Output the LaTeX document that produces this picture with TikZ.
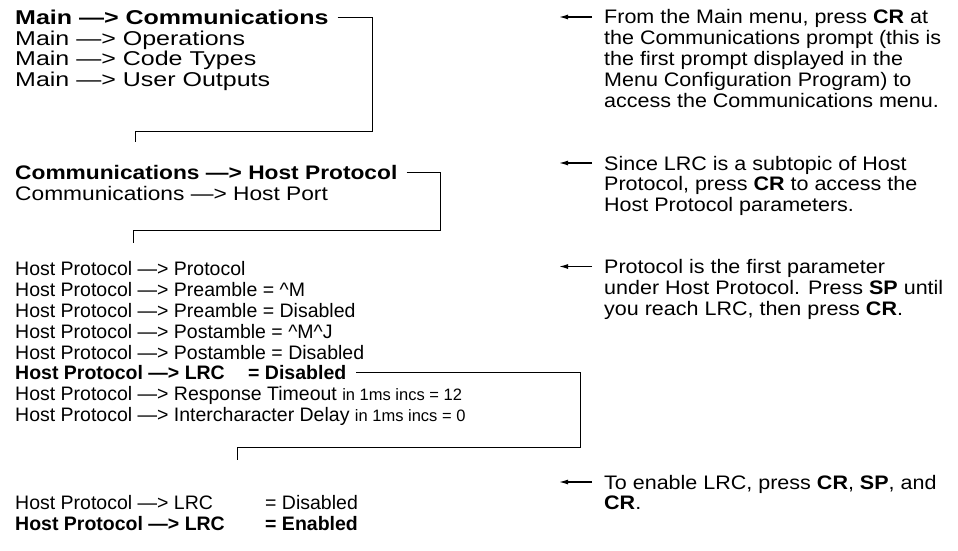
\documentclass[tikz,border=0pt]{standalone}
\usepackage{fontspec}
\setmainfont{Liberation Sans}[FakeStretch=1.1]
\newfontfamily\mainfam{Liberation Sans}[FakeStretch=1.25]
\newfontfamily\commfam{Liberation Sans}[FakeStretch=1.16]
\newfontfamily\hostfam{Liberation Sans}
\usetikzlibrary{calc}
\usetikzlibrary{arrows.meta}

\newcommand{\menuto}{—>}
\newcommand{\mainfs}{\mainfam\fontsize{20}{24}\selectfont}
\newcommand{\bodyfs}{\commfam\fontsize{19.6}{23}\selectfont}
\newcommand{\hostfs}{\hostfam\fontsize{19.5}{23}\selectfont}
\newcommand{\notefs}{\fontsize{19.55}{23}\selectfont}
\newcommand{\smallfs}{\fontsize{16.5}{19}\selectfont}

\begin{document}
\begin{tikzpicture}[x=1pt,y=-1pt,
    menu/.style={anchor=base west,inner sep=0pt,font=\bodyfs},
    host/.style={anchor=base west,inner sep=0pt,font=\hostfs},
    note/.style={anchor=base west,inner sep=0pt,font=\notefs},
    link/.style={line width=.9pt},
    hint/.style={line width=1.3pt,-{Latex[length=9pt,width=5pt]}}]
    \useasboundingbox (0,0) rectangle (958,551);

    % Main 菜单
    \node[menu,font=\mainfs\bfseries] (m1) at (15,25) {Main \menuto{} Communications};
    \node[menu,font=\mainfs] (m2) at (15,45.5) {Main \menuto{} Operations};
    \node[menu,font=\mainfs] (m3) at (15,66) {Main \menuto{} Code Types};
    \node[menu,font=\mainfs] (m4) at (15,86.5) {Main \menuto{} User Outputs};
    % 折线连到下一段
    \coordinate (k1) at (372,131);
    \coordinate (s1) at (135,142);
    \draw[link] ([xshift=9pt]m1.east) -| (k1) -| (s1);

    % Communications 菜单
    \node[menu,font=\bodyfs\bfseries] (c1) at (15,179.5) {Communications \menuto{} Host Protocol};
    \node[menu] (c2) at (15,200.5) {Communications \menuto{} Host Port};
    \coordinate (k2) at (440,230);
    \coordinate (s2) at (133,243);
    \draw[link] ([xshift=9pt]c1.east) -| (k2) -| (s2);

    % Host Protocol 参数
    \node[host] (p1) at (15,275) {Host Protocol \menuto{} Protocol};
    \node[host] (p2) at (15,296) {Host Protocol \menuto{} Preamble = \textasciicircum M};
    \node[host] (p3) at (15,317) {Host Protocol \menuto{} Preamble = Disabled};
    \node[host] (p4) at (15,338) {Host Protocol \menuto{} Postamble = \textasciicircum M\textasciicircum J};
    \node[host] (p5) at (15,359) {Host Protocol \menuto{} Postamble = Disabled};
    \node[host,font=\hostfs\bfseries] (p6) at (15,379.5) {Host Protocol \menuto{} LRC};
    \node[host,font=\hostfs\bfseries] (p6v) at (248,379.5) {= Disabled};
    \node[host] (p7) at (15,400.5) {Host Protocol \menuto{} Response Timeout {\smallfs in 1ms incs = 12}};
    \node[host] (p8) at (15,421.5) {Host Protocol \menuto{} Intercharacter Delay {\smallfs in 1ms incs = 0}};
    \coordinate (k3) at (580,447);
    \coordinate (s3) at (237,460);
    \draw[link] ([xshift=10pt]p6v.east) -| (k3) -| (s3);

    % LRC 设置
    \node[host] (q1) at (15,509) {Host Protocol \menuto{} LRC};
    \node[host] (q1v) at (265,509) {= Disabled};
    \node[host,font=\hostfs\bfseries] (q2) at (15,530) {Host Protocol \menuto{} LRC};
    \node[host,font=\hostfs\bfseries] (q2v) at (265,530) {= Enabled};

    % 右侧说明
    \node[note] (n11) at (604,24) {From the Main menu, press \textbf{CR} at};
    \node[note] (n12) at (604,44.8) {the Communications prompt (this is};
    \node[note] (n13) at (604,65.6) {the first prompt displayed in the};
    \node[note] (n14) at (604,86.4) {Menu Configuration Program) to};
    \node[note] (n15) at (604,107.2) {access the Communications menu.};
    \draw[hint] ([shift={(-12,-7)}]n11.base west) -- ++(-33,0);

    \node[note] (n21) at (604,170) {Since LRC is a subtopic of Host};
    \node[note] (n22) at (604,190.8) {Protocol, press \textbf{CR} to access the};
    \node[note] (n23) at (604,211.6) {Host Protocol parameters.};
    \draw[hint] ([shift={(-12,-7)}]n21.base west) -- ++(-33,0);

    \node[note] (n31) at (604,273.5) {Protocol is the first parameter};
    \node[note] (n32) at (604,294.3) {under Host Protocol. Press \textbf{SP} until};
    \node[note] (n33) at (604,315.1) {you reach LRC, then press \textbf{CR}.};
    \draw[hint] ([shift={(-12,-7)}]n31.base west) -- ++(-33,0);

    \node[note] (n41) at (604,489) {To enable LRC, press \textbf{CR}, \textbf{SP}, and};
    \node[note] (n42) at (604,509.8) {\textbf{CR}.};
    \draw[hint] ([shift={(-12,-7)}]n41.base west) -- ++(-33,0);
\end{tikzpicture}
\end{document}
